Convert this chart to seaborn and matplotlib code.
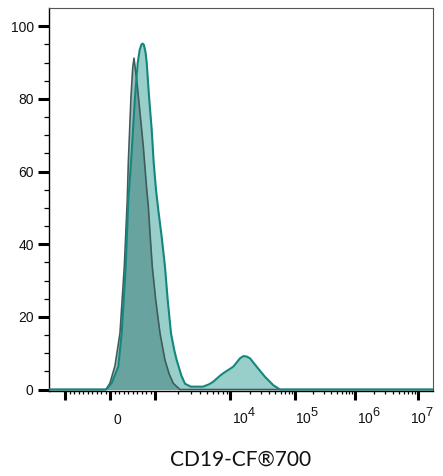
import numpy as np
import pandas as pd
import matplotlib
matplotlib.use("Agg")
import matplotlib.pyplot as plt
import matplotlib._mathtext as _mt
from matplotlib.transforms import ScaledTranslation
from matplotlib.ticker import FixedLocator
import seaborn as sns

# ---------------- data (raw fluorescence intensity -> % of max) ----------------
sample_x = [-3000, -100, -73, 38, 184, 260, 349, 407, 467, 511, 556, 616, 660, 700, 727,
            755, 790, 816, 867, 927, 971, 1031, 1113, 1228, 1359, 1476, 1634, 1800, 1946, 2250, 2512,
            3000, 4365, 5200, 5933, 7356, 8147, 11250, 14250, 16040, 18000, 20300, 25700, 34530,
            46320, 58700, 80000, 3e7]
sample_y = [0, 0, 0.2, 1.8, 6.3, 15.5, 33.8, 52.2, 62.4, 71.5, 80.7, 89.9, 93.5, 95.0, 95.2,
            94.8, 92.8, 89.9, 80.7, 71.5, 62.4, 55.0, 49.0, 42.0, 33.8, 24.7, 15.5, 11.0, 8.1, 3.8, 1.6,
            0.8, 0.8, 1.4, 2.1, 3.8, 4.5, 6.3, 8.6, 9.2, 9.1, 8.6, 6.3, 3.5,
            1.2, 0, 0, 0]

control_x = [-3000, -89, 0, 110, 222, 318, 384, 407, 467, 505, 533, 560, 593, 667, 740, 816, 851,
             889, 940, 1022, 1166, 1359, 1550, 1754, 2154, 3e7]
control_y = [0, 0, 1.8, 6.5, 15.5, 33.8, 52.2, 62.4, 80.7, 88.5, 91.2, 88.5, 85.3, 76.1, 66.9, 55.0, 50.5,
             43.0, 33.8, 24.7, 15.5, 8.1, 4.2, 1.7, 0, 0]

y_ticks = [0, 20, 40, 60, 80, 100]
x_major = [-1000, 0, 1000, 1e4, 1e5, 1e6, 1e7]
x_labels = ["", "0", "", "$10^{4}$", "$10^{5}$", "$10^{6}$", "$10^{7}$"]
xlabel = "CD19-CF\u00ae700"

# ---------------- biexponential-like display scale ----------------
U_ANCH = [-3, -2, -1, 0, 1, 2, 3, 4, 5, 6]
P_ANCH = [-25, 20, 65, 110, 155, 230, 295, 355, 418, 481]


def _to_u(x):
    x = np.asarray(x, dtype=float)
    a = np.abs(x)
    return np.where(a <= 1000, x / 1000.0,
                    np.sign(x) * (1 + np.log10(np.maximum(a, 1e-9) / 1000.0)))


def fwd(x):
    return np.interp(_to_u(x), U_ANCH, P_ANCH)


def inv(p):
    u = np.interp(np.asarray(p, dtype=float), P_ANCH, U_ANCH)
    return np.where(np.abs(u) <= 1, u * 1000.0,
                    np.sign(u) * 1000.0 * 10 ** (np.abs(u) - 1))


# larger, higher superscripts like the reference
_mt.SHRINK_FACTOR = 0.92
_mt.FontConstantsBase.sup1 = 0.95

# ---------------- plot ----------------
sns.set_theme(style="ticks")
plt.rcParams["font.family"] = ["Liberation Sans", "DejaVu Sans"]
plt.rcParams["mathtext.fontset"] = "custom"
plt.rcParams["mathtext.rm"] = "Liberation Sans"
plt.rcParams["mathtext.it"] = "Liberation Sans"

fig = plt.figure(figsize=(4.43, 4.76), dpi=100)
ax = fig.add_axes([49 / 443, 1 - 391 / 476, (433 - 49) / 443, (391 - 8) / 476])
ax.set_xscale("function", functions=(fwd, inv))

teal_line = "#14877d"
teal_fill = "#1b968c"
gray_line = "#3f5c5b"
gray_fill = "#2e6e6c"

sample = pd.DataFrame({"x": sample_x, "y": sample_y})
control = pd.DataFrame({"x": control_x, "y": control_y})

ax.fill_between(sample["x"], 0, sample["y"], color=teal_fill, alpha=0.45, lw=0, zorder=1)
ax.fill_between(control["x"], 0, control["y"], color=gray_fill, alpha=0.45, lw=0, zorder=2)
sns.lineplot(data=control, x="x", y="y", ax=ax, color=gray_line, lw=1.2, sort=False,
             estimator=None, zorder=3)
sns.lineplot(data=sample, x="x", y="y", ax=ax, color=teal_line, lw=1.5, sort=False,
             estimator=None, zorder=4)

ax.set_xlim(float(inv(49)), float(inv(433)))
ax.set_ylim(-0.4, 105)

# y ticks
ax.set_yticks(y_ticks)
ax.yaxis.set_minor_locator(FixedLocator([v for v in range(5, 100, 5) if v % 20]))
ax.tick_params(axis="y", which="major", length=8, width=2.2, direction="out",
               labelsize=10, pad=3, color="black", labelcolor="#111111")
ax.tick_params(axis="y", which="minor", length=3.6, width=0.9, direction="out", color="black")

# x ticks
minor_x = [v for v in range(-900, 1000, 100) if v != 0]
for k in range(3, 7):
    minor_x += [m * 10 ** k for m in range(2, 10)]
ax.xaxis.set_major_locator(FixedLocator(x_major))
ax.xaxis.set_minor_locator(FixedLocator(minor_x))
ax.set_xticklabels(x_labels)
ax.tick_params(axis="x", which="major", length=6.5, width=2.2, direction="out",
               labelsize=10, pad=17.5, color="black", labelcolor="#111111")
ax.tick_params(axis="x", which="minor", length=2.5, width=0.9, direction="out", color="black")

for spine in ["left", "bottom"]:
    ax.spines[spine].set_color("black")
    ax.spines[spine].set_linewidth(1.0)
for spine in ["top", "right"]:
    ax.spines[spine].set_color("#555555")
    ax.spines[spine].set_linewidth(0.8)

ax.set_ylabel("")
ax.set_xlabel(xlabel, fontsize=15, family=["Lato", "DejaVu Sans"], labelpad=16, color="#111111")

# label alignment: shared baseline, small horizontal shifts
offsets_px = [0, 4, 0, 2, 0, 2, -8]
for lab, dx in zip(ax.get_xticklabels(), offsets_px):
    lab.set_va("baseline")
    lab.set_ha("left")
    lab.set_transform(lab.get_transform() + ScaledTranslation(dx / 100, 0, fig.dpi_scale_trans))

fig.savefig("out.png", dpi=100)
